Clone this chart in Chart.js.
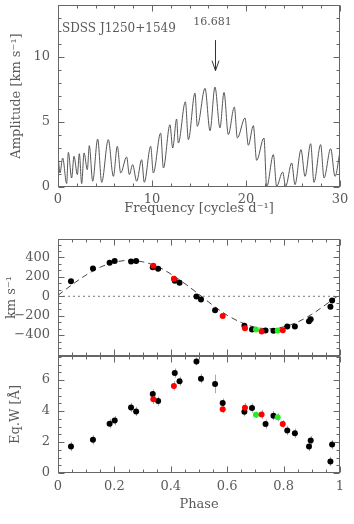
<!DOCTYPE html>
<html>
<head>
<meta charset="utf-8">
<script src="https://cdn.jsdelivr.net/npm/chart.js@4.4.0/dist/chart.umd.min.js"></script>
<style>
  html, body { margin: 0; padding: 0; background: #fff; }
  #wrap { position: relative; width: 354px; height: 524px; }
  canvas { position: absolute; left: 0; top: 0; }
</style>
</head>
<body>
<div id="wrap">
  <canvas id="freqChart" width="354" height="524"></canvas>
  <canvas id="rvChart" width="354" height="524"></canvas>
  <canvas id="ewChart" width="354" height="524"></canvas>
</div>
<script>
// ---- periodogram ----
const freq = [0, 0.21, 0.50, 0.92, 1.10, 1.45, 1.70, 2.06, 2.27, 2.52, 2.77, 3.12, 3.33, 3.69, 4.22, 4.65,
  5.35, 5.89, 6.31, 6.67, 7.30, 7.59, 7.94, 8.37, 8.90, 9.18, 9.86, 10.14, 10.92, 11.21, 11.91, 12.20,
  12.62, 12.80, 13.55, 13.87, 14.57, 14.82, 15.64, 16.17, 16.70, 17.23, 17.66, 18.12, 18.76, 19.08,
  19.89, 20.25, 20.78, 21.13, 21.91, 22.20, 22.91, 23.26, 23.90, 24.22, 24.86, 25.21, 25.85, 26.28,
  26.88, 27.23, 27.94, 28.30, 29.01, 29.47, 30];
const amp = [2.56, 1.08, 2.23, 0.26, 2.67, 0.69, 2.36, 0.95, 2.56, 0.26, 2.62, 1.33, 3.18, 0.44, 3.69, 0.36,
  3.64, 0.82, 3.13, 1.08, 2.31, 0.95, 1.72, 0.44, 2.10, 0.36, 3.13, 1.08, 4.15, 1.46, 4.79, 3.00,
  5.23, 3.38, 6.56, 3.64, 7.23, 4.67, 7.59, 4.33, 7.69, 4.54, 7.28, 4.03, 6.15, 3.77,
  5.31, 3.21, 4.72, 2.05, 3.77, 0.00, 2.49, 0.05, 1.15, 0.05, 1.85, 0.18, 2.87, 0.82,
  3.33, 0.36, 3.26, 0.69, 2.95, 0.82, 2.74];
const peakFreq = 16.681;
const starName = 'SDSS J1250+1549';
const freqTicks = [0, 10, 20, 30];
const ampTicks = [0, 5, 10];

// ---- radial velocities ----
const rvBlackPhase = [0.046, 0.124, 0.183, 0.201, 0.259, 0.277, 0.336, 0.355, 0.414, 0.431, 0.491, 0.507,
  0.557, 0.661, 0.688, 0.736, 0.764, 0.813, 0.840, 0.890, 0.896, 0.966, 0.972];
const rvBlackVel = [154, 287, 345, 363, 359, 363, 300, 284, 161, 140, -3, -34,
  -144, -304, -342, -352, -356, -311, -311, -256, -236, -109, -44];
const rvRedPhase = [0.338, 0.411, 0.584, 0.663, 0.722, 0.797];
const rvRedVel = [315, 181, -202, -328, -363, -349];
const rvGreenPhase = [0.702, 0.779];
const rvGreenVel = [-342, -352];
const fitPhase = [0, 0.05, 0.1, 0.15, 0.2, 0.25, 0.3, 0.35, 0.4, 0.45, 0.5, 0.55, 0.6, 0.65, 0.7, 0.75,
  0.8, 0.85, 0.9, 0.95, 1.0];
const fitVel = [10, 120, 220, 300, 350, 370, 355, 310, 230, 130, 20, -95, -195, -270, -320, -335,
  -315, -265, -185, -85, 20];
const velTicks = [-400, -200, 0, 200, 400];

// ---- equivalent widths ----
const ewBlackPhase = [0.046, 0.124, 0.183, 0.201, 0.259, 0.277, 0.336, 0.355, 0.414, 0.431, 0.491, 0.507,
  0.557, 0.584, 0.661, 0.688, 0.736, 0.764, 0.813, 0.840, 0.890, 0.896, 0.966, 0.972];
const ewBlackVal = [1.71, 2.14, 3.18, 3.38, 4.23, 3.97, 5.09, 4.64, 6.45, 5.92, 7.20, 6.09,
  5.75, 4.51, 3.95, 4.19, 3.16, 3.70, 2.74, 2.56, 1.71, 2.09, 0.75, 1.84];
const ewBlackErr = [0.3, 0.3, 0.3, 0.3, 0.3, 0.3, 0.3, 0.3, 0.3, 0.3, 0.25, 0.3,
  0.6, 0.3, 0.3, 0.3, 0.3, 0.3, 0.3, 0.3, 0.3, 0.3, 0.3, 0.3];
const ewRedPhase = [0.338, 0.411, 0.584, 0.663, 0.722, 0.797];
const ewRedVal = [4.76, 5.62, 4.12, 4.21, 3.78, 3.16];
const ewRedErr = [0.3, 0.3, 0.25, 0.3, 0.3, 0.25];
const ewGreenPhase = [0.702, 0.779];
const ewGreenVal = [3.76, 3.59];
const ewGreenErr = [0.2, 0.25];
const phaseTicks = [0, 0.2, 0.4, 0.6, 0.8, 1];
const ewTicks = [0, 2, 4, 6];

const AXIS_COLOR = '#666';
const TEXT_COLOR = '#5a5a5a';
const FONT = 'DejaVu Serif';

const xy = (xs, ys) => xs.map((x, i) => ({ x: x, y: ys[i] }));
const fmt = v => String(Number(v.toFixed(3))).replace('-', '\u2212');
const fixedTicks = list => s => { s.ticks = list.map(v => ({ value: v })); };
// fixed box sizes so the plot areas land where they are in the figure
const fitX = h => s => { s.height = h; s.paddingLeft = 0; s.paddingRight = 0; };
const fitY = w => s => { s.width = w; s.paddingTop = 0; s.paddingBottom = 0; };

// frame with inward ticks on all four sides
const frameTicks = {
  id: 'frameTicks',
  afterDraw(chart, args, opts) {
    const { ctx, chartArea: a, scales: { x, y } } = chart;
    const L = Math.round(a.left) + 0.5, R = Math.round(a.right) - 0.5;
    const T = Math.round(a.top) + 0.5, B = Math.round(a.bottom) - 0.5;
    ctx.save();
    ctx.strokeStyle = AXIS_COLOR;
    ctx.lineWidth = 1;
    ctx.strokeRect(L, T, R - L, B - T);
    ctx.beginPath();
    for (let k = Math.ceil(x.min / opts.xMinor - 1e-6); k * opts.xMinor <= x.max + 1e-9; k++) {
      const px = Math.round(x.getPixelForValue(k * opts.xMinor)) + 0.5;
      const len = k % opts.xRatio === 0 ? 6 : 3;
      ctx.moveTo(px, B); ctx.lineTo(px, B - len);
      ctx.moveTo(px, T); ctx.lineTo(px, T + len);
    }
    for (let k = Math.ceil(y.min / opts.yMinor - 1e-6); k * opts.yMinor <= y.max + 1e-9; k++) {
      const py = Math.round(y.getPixelForValue(k * opts.yMinor)) + 0.5;
      const len = k % opts.yRatio === 0 ? 6 : 3;
      ctx.moveTo(L, py); ctx.lineTo(L + len, py);
      ctx.moveTo(R, py); ctx.lineTo(R - len, py);
    }
    ctx.stroke();
    ctx.restore();
  }
};

// vertical error bars drawn under the points
const errorBars = {
  id: 'errorBars',
  beforeDatasetsDraw(chart) {
    const { ctx, scales: { x, y } } = chart;
    ctx.save();
    ctx.strokeStyle = '#aaa';
    ctx.lineWidth = 1;
    chart.data.datasets.forEach(ds => {
      if (!ds.errors) return;
      ds.data.forEach((p, i) => {
        const px = Math.round(x.getPixelForValue(p.x)) + 0.5;
        ctx.beginPath();
        ctx.moveTo(px, y.getPixelForValue(p.y - ds.errors[i]));
        ctx.lineTo(px, y.getPixelForValue(p.y + ds.errors[i]));
        ctx.stroke();
      });
    });
    ctx.restore();
  }
};

// star name and the arrow marking the peak
const peakLabel = {
  id: 'peakLabel',
  afterDraw(chart) {
    const { ctx, scales: { x, y } } = chart;
    const px = Math.round(x.getPixelForValue(peakFreq)) + 0.5;
    const y0 = y.getPixelForValue(11.3), y1 = y.getPixelForValue(8.95);
    ctx.save();
    ctx.fillStyle = TEXT_COLOR;
    ctx.font = '12px "' + FONT + '"';
    ctx.textBaseline = 'alphabetic';
    ctx.fillText(starName, 62, 32);
    ctx.font = '11px "' + FONT + '"';
    ctx.textAlign = 'center';
    ctx.fillText(peakFreq.toFixed(3), px - 3, 25);
    ctx.strokeStyle = '#333';
    ctx.lineWidth = 1;
    ctx.beginPath();
    ctx.moveTo(px, y0); ctx.lineTo(px, y1);
    ctx.moveTo(px - 3.5, y1 - 10); ctx.lineTo(px, y1); ctx.lineTo(px + 3.5, y1 - 10);
    ctx.stroke();
    ctx.restore();
  }
};

function baseOptions(pad, xOpts, yOpts, frame) {
  return {
    responsive: false,
    animation: false,
    devicePixelRatio: 1,
    layout: { padding: pad },
    events: [],
    plugins: { legend: { display: false }, tooltip: { enabled: false }, frameTicks: frame },
    scales: {
      x: Object.assign({
        type: 'linear',
        grid: { display: false, drawTicks: false },
        border: { display: false },
      }, xOpts),
      y: Object.assign({
        type: 'linear',
        grid: { display: false, drawTicks: false },
        border: { display: false },
      }, yOpts)
    }
  };
}

const tickFont = { family: FONT, size: 13 };
const titleFont = { family: FONT, size: 13 };

// top: periodogram
new Chart(document.getElementById('freqChart'), {
  type: 'line',
  data: {
    datasets: [{
      data: xy(freq, amp),
      borderColor: '#555',
      borderWidth: 1,
      pointRadius: 0,
      cubicInterpolationMode: 'monotone'
    }]
  },
  options: baseOptions({ left: 0, right: 14, top: 5, bottom: 302 },
    {
      min: 0, max: 30,
      afterBuildTicks: fixedTicks(freqTicks),
      ticks: { padding: 5, color: TEXT_COLOR, font: tickFont, maxRotation: 0, callback: fmt },
      title: { display: true, text: 'Frequency [cycles d\u207B\u00B9]', color: TEXT_COLOR, font: titleFont, padding: { bottom: 6 } },
      afterFit: fitX(35)
    },
    {
      min: 0, max: 14,
      afterBuildTicks: fixedTicks(ampTicks),
      ticks: { padding: 8, color: TEXT_COLOR, font: tickFont, callback: fmt },
      title: { display: true, text: 'Amplitude [km s\u207B\u00B9]', color: TEXT_COLOR, font: titleFont, padding: { top: 9 } },
      afterFit: fitY(58)
    },
    { xMinor: 2, xRatio: 5, yMinor: 1, yRatio: 5 }),
  plugins: [frameTicks, peakLabel]
});

// middle: radial velocity curve
new Chart(document.getElementById('rvChart'), {
  type: 'scatter',
  data: {
    datasets: [
      { data: xy(rvRedPhase, rvRedVel), backgroundColor: '#ff0000', pointRadius: 3, borderWidth: 0 },
      { data: xy(rvGreenPhase, rvGreenVel), backgroundColor: '#22ee22', pointRadius: 3, borderWidth: 0 },
      { data: xy(rvBlackPhase, rvBlackVel), backgroundColor: '#000', pointRadius: 3, borderWidth: 0 },
      { data: xy(fitPhase, fitVel), showLine: true, borderColor: '#444', borderWidth: 1, borderDash: [6, 4],
        pointRadius: 0, cubicInterpolationMode: 'monotone' },
      { data: [{ x: 0, y: 0 }, { x: 1, y: 0 }], showLine: true, borderColor: '#777', borderWidth: 1,
        borderDash: [2, 3], pointRadius: 0 }
    ]
  },
  options: baseOptions({ left: 0, right: 14, top: 239, bottom: 168 },
    {
      min: 0, max: 1,
      ticks: { display: false },
      afterFit: fitX(0)
    },
    {
      min: -615, max: 590,
      afterBuildTicks: fixedTicks(velTicks),
      ticks: { padding: 8, color: TEXT_COLOR, font: tickFont, callback: fmt },
      title: { display: true, text: 'km s\u207B\u00B9', color: TEXT_COLOR, font: titleFont, padding: { top: 4 } },
      afterFit: fitY(58)
    },
    { xMinor: 0.05, xRatio: 4, yMinor: 200 / 3, yRatio: 3 }),
  plugins: [frameTicks]
});

// bottom: equivalent width
new Chart(document.getElementById('ewChart'), {
  type: 'scatter',
  data: {
    datasets: [
      { data: xy(ewRedPhase, ewRedVal), errors: ewRedErr, backgroundColor: '#ff0000', pointRadius: 3, borderWidth: 0 },
      { data: xy(ewGreenPhase, ewGreenVal), errors: ewGreenErr, backgroundColor: '#22ee22', pointRadius: 3, borderWidth: 0 },
      { data: xy(ewBlackPhase, ewBlackVal), errors: ewBlackErr, backgroundColor: '#000', pointRadius: 3, borderWidth: 0 }
    ]
  },
  options: baseOptions({ left: 0, right: 14, top: 356, bottom: 4 },
    {
      min: 0, max: 1,
      afterBuildTicks: fixedTicks(phaseTicks),
      ticks: { padding: 6, color: TEXT_COLOR, font: tickFont, maxRotation: 0, callback: fmt },
      title: { display: true, text: 'Phase', color: TEXT_COLOR, font: titleFont, padding: { bottom: 8 } },
      afterFit: fitX(47)
    },
    {
      min: 0, max: 7.55,
      afterBuildTicks: fixedTicks(ewTicks),
      ticks: { padding: 8, color: TEXT_COLOR, font: tickFont, callback: fmt },
      title: { display: true, text: 'Eq.W [\u00C5]', color: TEXT_COLOR, font: titleFont, padding: { top: 8 } },
      afterFit: fitY(58)
    },
    { xMinor: 0.05, xRatio: 4, yMinor: 0.5, yRatio: 4 }),
  plugins: [frameTicks, errorBars]
});
</script>
</body>
</html>
